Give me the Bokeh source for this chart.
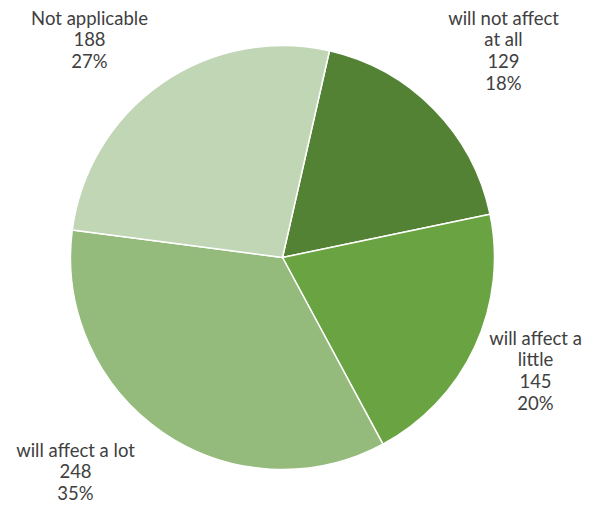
import math
from bokeh.plotting import figure
from bokeh.models import Range1d, ColumnDataSource
from bokeh.core.properties import value
from bokeh.embed import file_html
from bokeh.resources import INLINE

categories = ["will not affect\nat all", "will affect a\nlittle", "will affect a lot", "Not applicable"]
counts = [129, 145, 248, 188]
pct_labels = ["18%", "20%", "35%", "27%"]
colors = ["#548235", "#6aa341", "#94bb7c", "#c0d6b5"]

# label anchor positions (page px, top-center of each label block)
label_x = [503, 535, 75, 89]
label_y = [6, 326, 438, 6]

W, H = 597, 510
cx, cy, r = 282, 257, 212   # page px
first_angle = 12.8           # degrees clockwise from 12 o'clock

total = sum(counts)
starts, ends = [], []
cum = 0.0
for c in counts:
    a0 = math.radians(90 - first_angle - cum / total * 360)
    a1 = math.radians(90 - first_angle - (cum + c) / total * 360)
    starts.append(a0)
    ends.append(a1)
    cum += c

src = ColumnDataSource(dict(start=starts, end=ends, color=colors,
                            x=[cx] * 4, y=[H - cy] * 4))

p = figure(width=W, height=H, output_backend="svg", toolbar_location=None,
           x_range=Range1d(0, W), y_range=Range1d(0, H),
           min_border=0, outline_line_color=None)
p.axis.visible = False
p.grid.visible = False
p.background_fill_color = "white"
p.border_fill_color = "white"

p.wedge(x="x", y="y", radius=r, start_angle="start", end_angle="end",
        direction="clock", fill_color="color", line_color="white",
        line_width=1.5, source=src)

texts = [f"{cat}\n{c}\n{pct}" for cat, c, pct in zip(categories, counts, pct_labels)]

lsrc = ColumnDataSource(dict(x=label_x, y=[H - v for v in label_y], text=texts))
p.text(x="x", y="y", text="text", source=lsrc, text_align="center",
       text_baseline="top", text_font=value("Lato"), text_font_size="18.5px",
       text_color="#404040", text_line_height=0.99)

open("out.html", "w").write(file_html(p, INLINE))
